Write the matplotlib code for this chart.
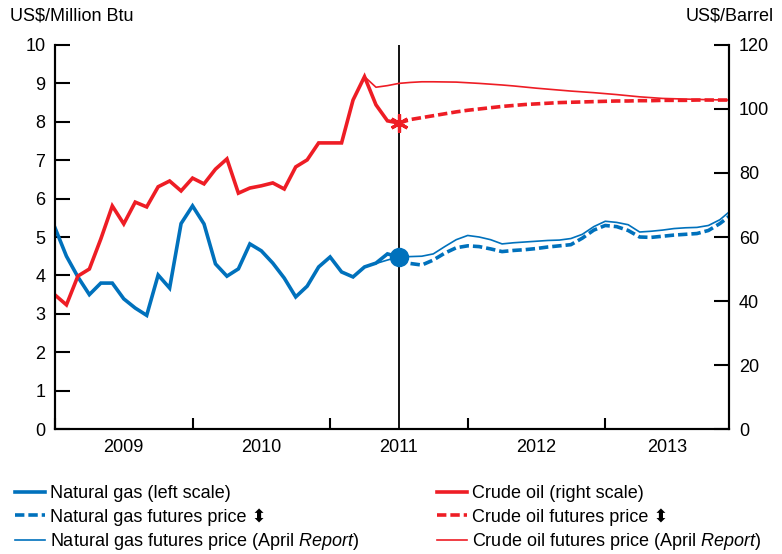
import matplotlib
matplotlib.use("Agg")
import matplotlib.pyplot as plt
import numpy as np

plt.rcParams["font.family"] = ["Liberation Sans", "DejaVu Sans"]
plt.rcParams["mathtext.fontset"] = "custom"
plt.rcParams["mathtext.rm"] = "Liberation Sans"
plt.rcParams["mathtext.it"] = "Liberation Sans:italic"

BLUE = "#0071BC"
RED = "#EE1D25"

# monthly, index 0 = Jan 2009
gas_hist = [5.24, 4.50, 3.96, 3.50, 3.80, 3.80, 3.39, 3.15, 2.96, 4.01, 3.67, 5.35,
            5.81, 5.34, 4.30, 3.98, 4.17, 4.82, 4.64, 4.32, 3.93, 3.44, 3.72, 4.22,
            4.48, 4.09, 3.96, 4.22, 4.32, 4.56, 4.48]
oil_hist = [41.9, 38.8, 47.8, 50.0, 59.4, 69.7, 64.1, 70.9, 69.4, 75.7, 77.5, 74.4,
            78.4, 76.6, 81.2, 84.4, 73.7, 75.3, 76.0, 76.9, 75.0, 81.9, 84.1, 89.4,
            89.4, 89.4, 102.8, 110.1, 101.3, 96.3, 95.6]

# futures curves, starting at index 30
gas_fut = [4.48, 4.31, 4.27, 4.40, 4.58, 4.72, 4.77, 4.75, 4.69, 4.62, 4.65, 4.67,
           4.70, 4.74, 4.77, 4.80, 4.97, 5.18, 5.30, 5.27, 5.17, 5.00, 4.99, 5.02,
           5.05, 5.07, 5.09, 5.17, 5.35, 5.58]
oil_fut = [95.6, 96.7, 97.3, 97.9, 98.5, 99.1, 99.6, 100.0, 100.4, 100.8, 101.1, 101.4,
           101.6, 101.8, 102.0, 102.1, 102.2, 102.3, 102.4, 102.5, 102.5, 102.6, 102.6,
           102.7, 102.7, 102.7, 102.8, 102.8, 102.8, 102.8]

# April Report futures curves
gas_apr_start = 28
gas_apr = [4.31, 4.40, 4.48, 4.49, 4.50, 4.56, 4.75, 4.93, 5.04, 5.00, 4.93, 4.82,
           4.85, 4.87, 4.89, 4.91, 4.92, 4.96, 5.07, 5.27, 5.41, 5.38, 5.32, 5.13,
           5.15, 5.18, 5.22, 5.24, 5.25, 5.30, 5.45, 5.70]
oil_apr_start = 27
oil_apr = [110.1, 106.8, 107.3, 108.0, 108.3, 108.5, 108.5, 108.45, 108.4, 108.2, 108.0,
           107.75, 107.5, 107.2, 106.85, 106.5, 106.2, 105.9, 105.6, 105.35, 105.1, 104.8,
           104.5, 104.15, 103.8, 103.55, 103.3, 103.2, 103.1, 103.0, 102.9, 102.85, 102.8]

years = ["2009", "2010", "2011", "2012", "2013"]
year_starts = [0, 12, 24, 36, 48]
x_max = 58.8
cut = 30

FS = 13

fig = plt.figure(figsize=(7.82, 5.54), dpi=100)
ax = fig.add_axes([0.0703, 0.2256, 0.862, 0.6932])
ax2 = ax.twinx()

x_hist = np.arange(len(gas_hist))
x_gas_fut = np.arange(cut, cut + len(gas_fut))
x_oil_fut = np.arange(cut, cut + len(oil_fut))
x_gas_apr = np.arange(gas_apr_start, gas_apr_start + len(gas_apr))
x_oil_apr = np.arange(oil_apr_start, oil_apr_start + len(oil_apr))

dash = (0, (2.6, 1.1))
l_gas, = ax.plot(x_hist, gas_hist, color=BLUE, lw=2.6, solid_joinstyle="miter")
l_gas_apr, = ax.plot(x_gas_apr, gas_apr, color=BLUE, lw=1.2)
l_gas_fut, = ax.plot(x_gas_fut, gas_fut, color=BLUE, lw=2.6, ls=dash)
ax.plot([cut], [gas_hist[-1]], "o", color=BLUE, ms=13, zorder=5)

l_oil, = ax2.plot(x_hist, oil_hist, color=RED, lw=2.6, solid_joinstyle="miter")
l_oil_apr, = ax2.plot(x_oil_apr, oil_apr, color=RED, lw=1.2)
l_oil_fut, = ax2.plot(x_oil_fut, oil_fut, color=RED, lw=2.6, ls=dash)
ax2.plot([cut], [oil_hist[-1]], marker=(6, 2, 0), color=RED, ms=13, mew=2.3, zorder=5)

ax.axvline(cut, color="black", lw=1.3, zorder=1)

ax.set_xlim(0, x_max)
ax.set_ylim(0, 10)
ax2.set_ylim(0, 120)

for a in (ax, ax2):
    a.spines["top"].set_visible(False)
    for s in ("left", "right", "bottom"):
        a.spines[s].set_linewidth(1.5)

ax.set_yticks(range(0, 11))
ax.tick_params(axis="y", direction="in", length=11, width=1.5, labelsize=FS, pad=7)
ax2.set_yticks(range(0, 121, 20))
ax2.tick_params(axis="y", direction="in", length=11, width=1.5, labelsize=FS, pad=7)

ax.set_xticks(year_starts)
ax.set_xticklabels([])
ax.tick_params(axis="x", direction="in", length=8, width=1.5)
label_pos = [(s + min(s + 12, x_max)) / 2 for s in year_starts]
ax.set_xticks(label_pos, minor=True)
ax.set_xticklabels(years, minor=True)
ax.tick_params(axis="x", which="minor", length=0, labelsize=FS, pad=7)

fig.text(0.013, 0.972, "US$/Million Btu", fontsize=FS, ha="left", va="center")
fig.text(0.99, 0.972, "US$/Barrel", fontsize=FS, ha="right", va="center")

mark = "\u2b0d"
handles = [l_gas, l_gas_fut, l_gas_apr, l_oil, l_oil_fut, l_oil_apr]
labels = [
    "Natural gas (left scale)",
    "Natural gas futures price " + mark,
    "Natural gas futures price (April $\\it{Report}$)",
    "Crude oil (right scale)",
    "Crude oil futures price " + mark,
    "Crude oil futures price (April $\\it{Report}$)",
]
fig.legend(handles, labels, ncol=2, loc="upper left", bbox_to_anchor=(0.010, 0.137),
           frameon=False, fontsize=FS, handlelength=1.65, handletextpad=0.3,
           labelspacing=0.32, columnspacing=4.3, borderaxespad=0)

fig.savefig("out.png", dpi=100)
